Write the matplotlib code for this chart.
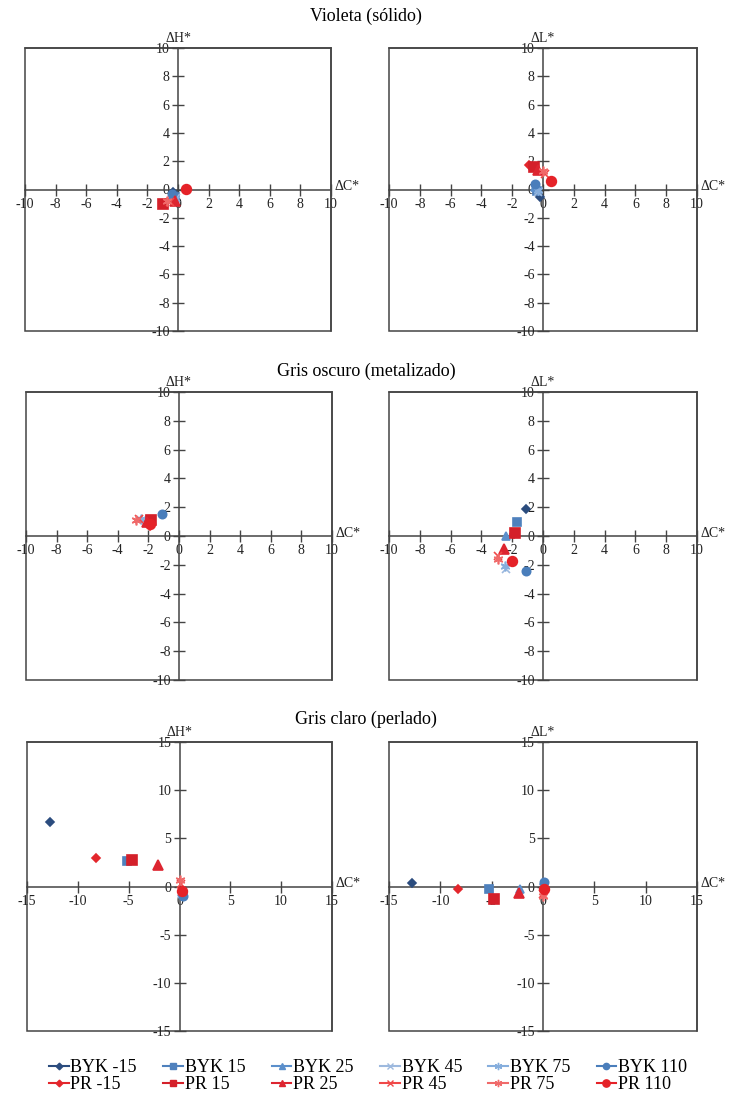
import matplotlib
matplotlib.use("Agg")
import matplotlib.pyplot as plt
from matplotlib.lines import Line2D
from matplotlib.patches import Rectangle

plt.rcParams['font.family'] = ['Liberation Serif', 'DejaVu Serif']
plt.rcParams['axes.unicode_minus'] = False

# ---------------- data ----------------
series = ['BYK -15', 'BYK 15', 'BYK 25', 'BYK 45', 'BYK 75', 'BYK 110',
          'PR -15', 'PR 15', 'PR 25', 'PR 45', 'PR 75', 'PR 110']

row_titles = ['Violeta (sólido)', 'Gris oscuro (metalizado)', 'Gris claro (perlado)']

# Violeta: dC* vs dH*
vio_h_dc = [-0.3, -0.2, -0.35, -0.1, -0.2, -0.4, -0.9, -1.0, -0.2, -0.5, -0.7, 0.5]
vio_h_dh = [-0.2, -0.5, -0.4, -0.6, -0.7, -0.3, -1.0, -1.0, -0.8, -0.9, -0.8, 0.05]
# Violeta: dC* vs dL*
vio_l_dc = [-0.2, -0.4, -0.5, -0.3, -0.35, -0.55, -0.9, -0.6, -0.3, 0.1, 0.0, 0.5]
vio_l_dl = [-0.5, -0.1, 0.2, -0.2, 0.0, 0.4, 1.7, 1.6, 1.4, 1.1, 1.3, 0.6]

# Gris oscuro: dC* vs dH*
gos_h_dc = [-1.8, -1.9, -2.0, -2.3, -2.5, -1.1, -1.9, -1.8, -2.1, -2.6, -2.8, -1.9]
gos_h_dh = [0.9, 1.1, 1.0, 1.1, 1.2, 1.5, 0.7, 1.1, 1.0, 1.2, 1.1, 0.8]
# Gris oscuro: dC* vs dL*
gos_l_dc = [-1.1, -1.7, -2.4, -2.4, -2.5, -1.1, -1.9, -1.8, -2.55, -2.9, -2.9, -2.0]
gos_l_dl = [1.9, 1.0, 0.0, -2.3, -2.1, -2.4, 0.15, 0.2, -0.9, -1.4, -1.6, -1.75]

# Gris claro: dC* vs dH*
gcl_h_dc = [-12.7, -5.2, 0.2, 0.2, 0.3, 0.3, -8.2, -4.7, -2.1, 0.1, 0.0, 0.2]
gcl_h_dh = [6.7, 2.6, -0.6, -0.8, -0.9, -1.0, 3.0, 2.8, 2.2, 0.3, 0.7, -0.5]
# Gris claro: dC* vs dL*
gcl_l_dc = [-12.8, -5.3, -2.2, 0.1, 0.0, 0.1, -8.3, -4.8, -2.3, 0.0, 0.0, 0.1]
gcl_l_dl = [0.4, -0.3, -0.3, -0.2, 0.1, 0.5, -0.3, -1.3, -0.7, -0.8, -1.0, -0.3]

# ---------------- styles ----------------
colors = ['#2B4C7E', '#4F81BD', '#5B8FCB', '#9DB9DE', '#86AEDD', '#4A7EBB',
          '#E3262C', '#D4202A', '#DD2530', '#F04848', '#F06A6A', '#E52228']
markers = ['D', 's', '^', 'x', (6, 2, 0), 'o',
           'D', 's', '^', 'x', (6, 2, 0), 'o']
msizes = [4.5, 6, 6, 6, 7, 6, 4.5, 6.5, 6.5, 6, 7, 7]

axc = '#444444'

W, H = 732, 1097
fig = plt.figure(figsize=(W / 100, H / 100), dpi=100)


def px_axes(left, top, width, height):
    return fig.add_axes([left / W, 1 - (top + height) / H, width / W, height / H])


panels = [
    (25, 48, 306, 283, vio_h_dc, vio_h_dh, 'ΔH*', 10, 2),
    (389, 48, 308, 283, vio_l_dc, vio_l_dl, 'ΔL*', 10, 2),
    (26, 392, 306, 288, gos_h_dc, gos_h_dh, 'ΔH*', 10, 2),
    (389, 392, 308, 288, gos_l_dc, gos_l_dl, 'ΔL*', 10, 2),
    (27, 742, 305, 289, gcl_h_dc, gcl_h_dh, 'ΔH*', 15, 5),
    (389, 742, 308, 289, gcl_l_dc, gcl_l_dl, 'ΔL*', 15, 5),
]

for (l, t, w, h, xs, ys, ylab, lim, step) in panels:
    ax = px_axes(l, t, w, h)
    ax.set_xlim(-lim, lim)
    ax.set_ylim(-lim, lim)
    ax.spines['left'].set_position(('data', 0))
    ax.spines['bottom'].set_position(('data', 0))
    for s in ax.spines.values():
        s.set_color(axc)
        s.set_linewidth(1.1)
    ax.add_patch(Rectangle((0, 0), 1, 1, transform=ax.transAxes, fill=False,
                           edgecolor=axc, linewidth=1.1, clip_on=False, zorder=1))
    ticks = list(range(-lim, lim + 1, step))
    ax.set_xticks(ticks)
    ax.set_yticks(ticks)
    ax.xaxis.set_ticks_position('bottom')
    ax.yaxis.set_ticks_position('left')
    ax.tick_params(axis='both', direction='inout', length=8, width=1.0,
                   color=axc, labelsize=10, pad=2, labelcolor='#222222')
    ax.text(0.5, 1.012, ylab, transform=ax.transAxes, ha='center', va='bottom',
            fontsize=10, color='#222222')
    ax.text(1.012, 0.51, 'ΔC*', transform=ax.transAxes, ha='left', va='center',
            fontsize=10, color='#222222')
    for i in range(len(series)):
        ax.plot([xs[i]], [ys[i]], linestyle='none', marker=markers[i],
                markersize=msizes[i], color=colors[i], markeredgewidth=1.2,
                zorder=3 + i)

# titles
fig.text(366 / W, 1 - 16 / H, row_titles[0], ha='center', va='center', fontsize=13)
fig.text(366 / W, 1 - 371 / H, row_titles[1], ha='center', va='center', fontsize=13)
fig.text(366 / W, 1 - 719 / H, row_titles[2], ha='center', va='center', fontsize=13)

# legend (column-major fill => interleave BYK / PR)
handles, labels = [], []
for k in range(6):
    for i in (k, k + 6):
        handles.append(Line2D([0], [0], color=colors[i], marker=markers[i],
                              markersize=msizes[i] * 0.75, linewidth=1.5,
                              markeredgewidth=1.0))
        labels.append(series[i])
fig.legend(handles, labels, ncol=6, loc='center',
           bbox_to_anchor=(368 / W, 1 - 1076 / H), frameon=False, fontsize=13,
           handlelength=1.1, handletextpad=0.1, columnspacing=1.45,
           labelspacing=0.0, borderpad=0.0)

fig.savefig('out.png', dpi=100)
